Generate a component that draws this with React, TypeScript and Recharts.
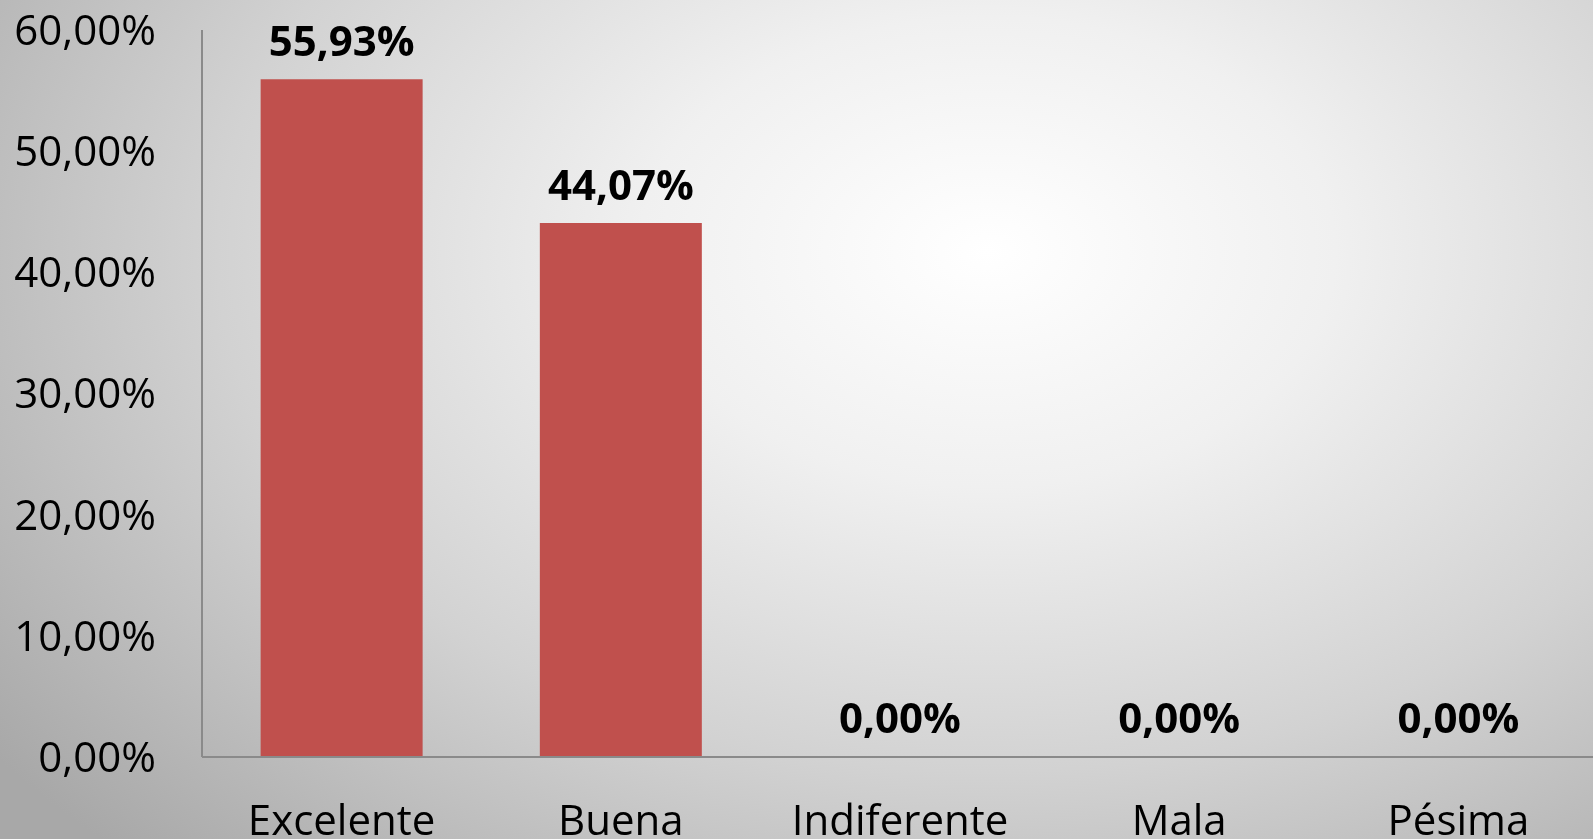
import React from 'react';
import { BarChart, Bar, XAxis, YAxis, LabelList } from 'recharts';

const categories = ['Excelente', 'Buena', 'Indiferente', 'Mala', 'Pésima'];
const percentages = [55.93, 44.07, 0, 0, 0];
const yTicks = [0, 10, 20, 30, 40, 50, 60];

const FONT = '"Open Sans", "Noto Sans", sans-serif';

const fmt = (v: number) => v.toFixed(2).replace('.', ',') + '%';

const data = categories.map((name, i) => ({ name, value: percentages[i] }));

const App: React.FC = () => {
  return (
    <div
      style={{
        position: 'fixed',
        left: 0,
        top: 0,
        width: 1593,
        height: 839,
        overflow: 'hidden',
        background:
          'radial-gradient(ellipse 78% 100% at 62% 30%, #ffffff 0%, #f0f0f0 28%, #d2d2d2 62%, #a8a8a8 100%)',
      }}
    >
      {/* plot area runs a few px past the right edge, as in the original */}
      <BarChart
        width={1598}
        height={839}
        data={data}
        margin={{ top: 30, right: 0, bottom: 0, left: 0 }}
        barCategoryGap="21%"
      >
        <XAxis
          dataKey="name"
          height={82}
          tickLine={false}
          tickSize={0}
          tickMargin={48}
          axisLine={{ stroke: '#8a8a8a', strokeWidth: 2 }}
          tick={{ fill: '#000', fontSize: 42, fontFamily: FONT }}
        />
        <YAxis
          width={202}
          domain={[0, 60]}
          ticks={yTicks}
          tickFormatter={fmt}
          tickLine={false}
          tickSize={0}
          tickMargin={46}
          axisLine={{ stroke: '#8a8a8a', strokeWidth: 2 }}
          tick={{ fill: '#000', fontSize: 42, fontFamily: FONT }}
        />
        <Bar dataKey="value" fill="#c0504d" minPointSize={1} isAnimationActive={false}>
          <LabelList
            dataKey="value"
            position="top"
            offset={23}
            formatter={(v: any) => fmt(Number(v))}
            style={{ fill: '#000', fontSize: 42, fontWeight: 700, fontFamily: FONT }}
          />
        </Bar>
      </BarChart>
    </div>
  );
};

export default App;
